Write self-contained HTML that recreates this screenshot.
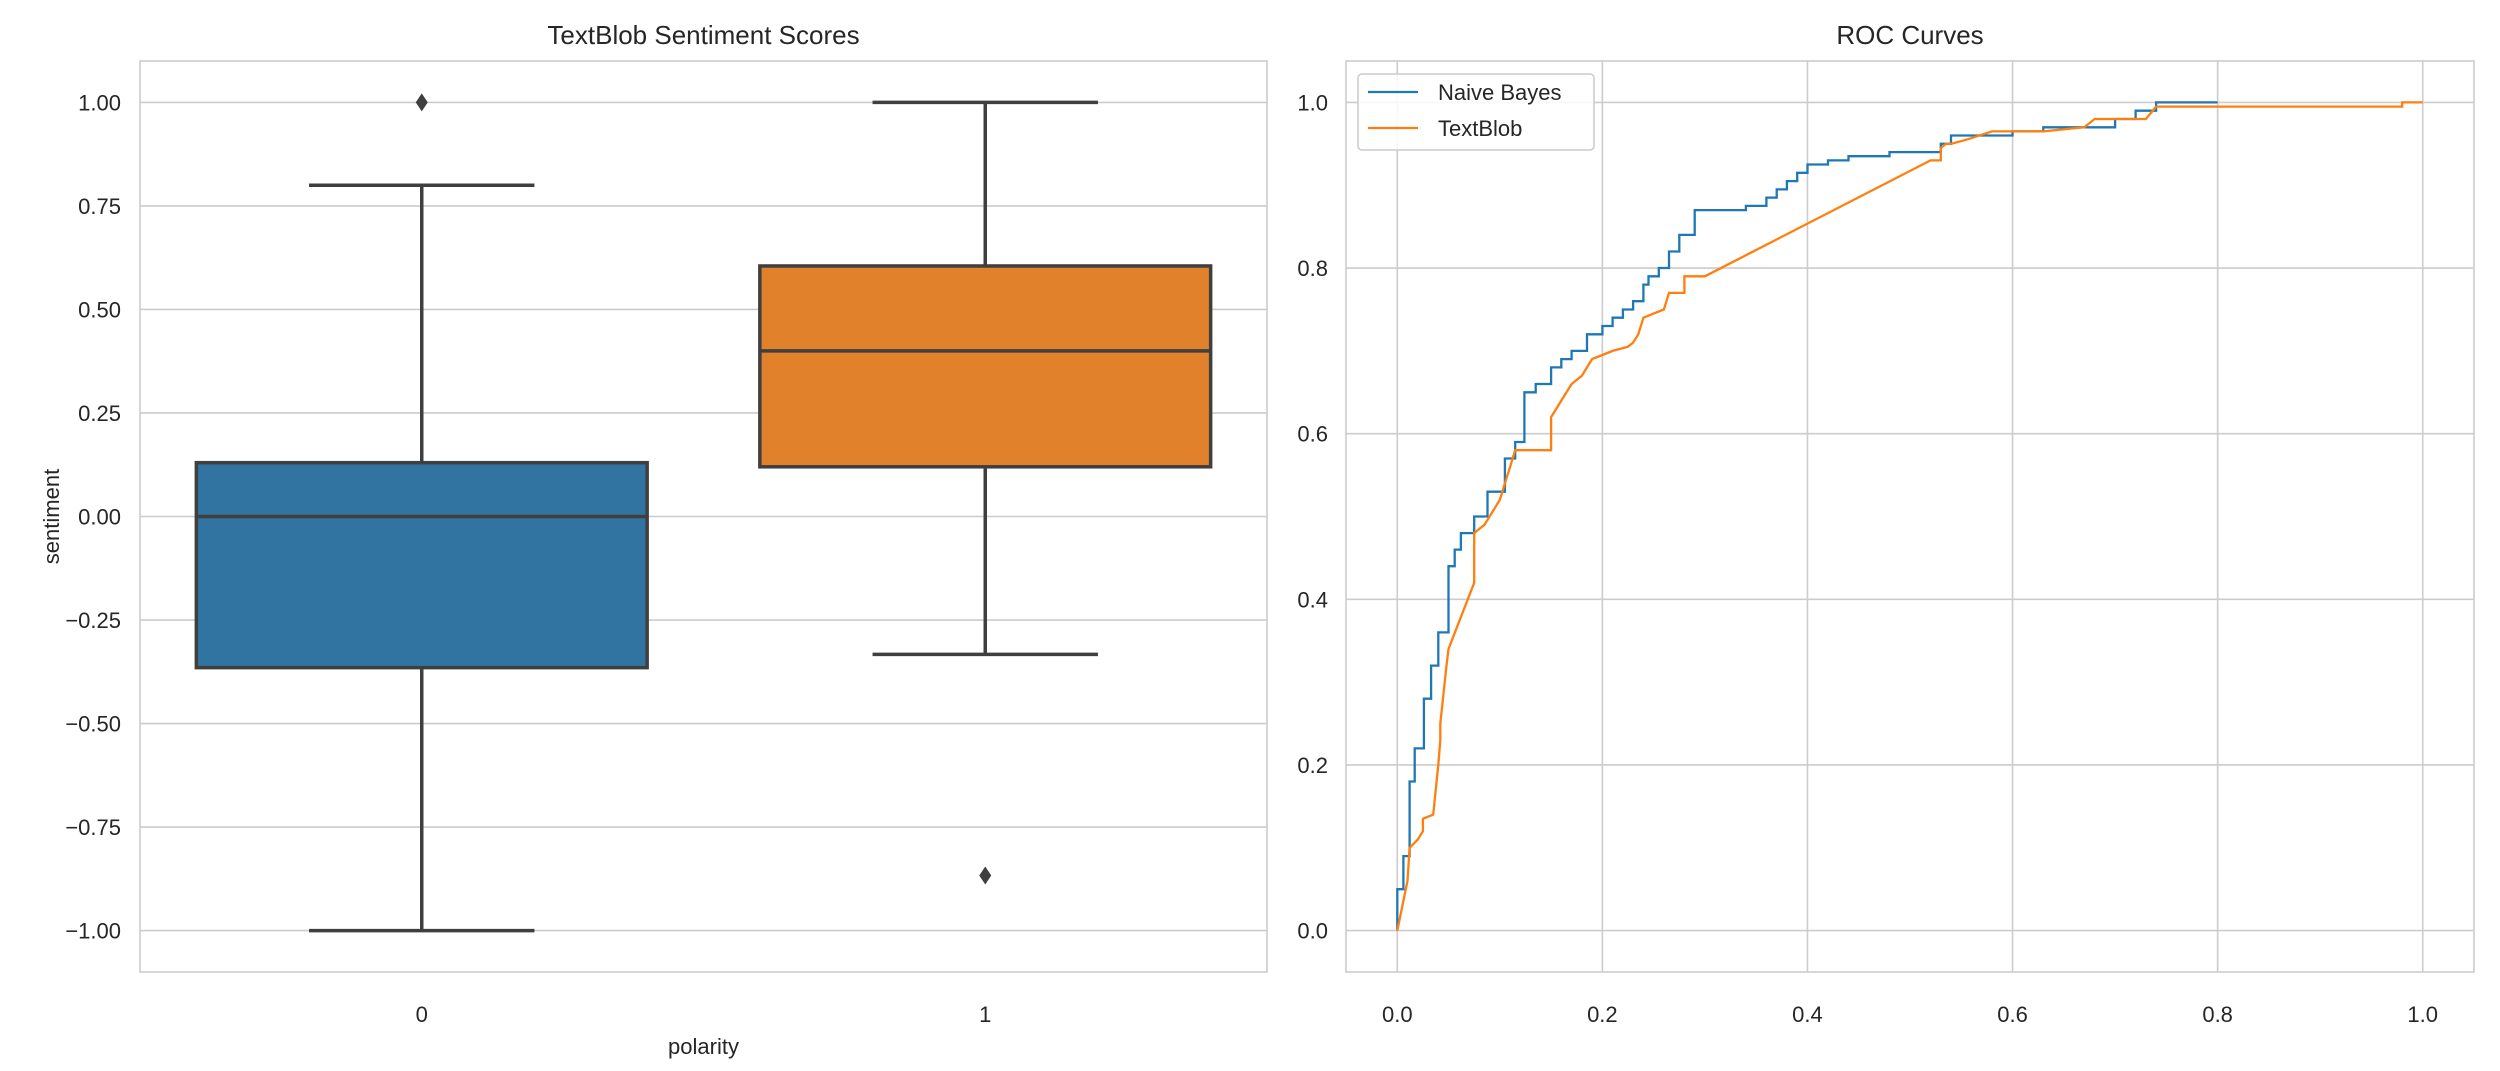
<!DOCTYPE html>
<html><head><meta charset="utf-8"><style>
html,body{margin:0;padding:0;background:#fff}
svg{display:block;font-family:"Liberation Sans","DejaVu Sans",sans-serif}
</style></head><body>
<svg id="chart" width="2500" height="1071" viewBox="0 0 2500 1071" xmlns="http://www.w3.org/2000/svg"></svg>
<script>
// ---- Box plot data ----
const boxCategories = ["0", "1"];
const boxQ1 = [-0.365, 0.12];
const boxMedian = [0.0, 0.40];
const boxQ3 = [0.13, 0.605];
const whiskerLow = [-1.0, -0.333];
const whiskerHigh = [0.8, 1.0];
const outliers = [[1.0], [-0.867]];
const boxColors = ["#3274a1", "#e1812c"];
const leftYTicks = [-1.0, -0.75, -0.5, -0.25, 0.0, 0.25, 0.5, 0.75, 1.0];

// ---- ROC data ----
const nbFpr = [0,0,0.006,0.006,0.012,0.012,0.017,0.017,0.026,0.026,0.033,0.033,0.04,0.04,0.05,0.05,0.056,0.056,0.062,0.062,0.075,0.075,0.088,0.088,0.105,0.105,0.115,0.115,0.124,0.124,0.135,0.135,0.15,0.15,0.16,0.16,0.17,0.17,0.185,0.185,0.2,0.2,0.21,0.21,0.22,0.22,0.23,0.23,0.24,0.24,0.245,0.245,0.255,0.255,0.265,0.265,0.275,0.275,0.29,0.29,0.34,0.34,0.36,0.36,0.37,0.37,0.38,0.38,0.39,0.39,0.40,0.40,0.42,0.42,0.44,0.44,0.48,0.48,0.53,0.53,0.54,0.54,0.60,0.60,0.63,0.63,0.70,0.70,0.72,0.72,0.74,0.74,0.80,0.80,1.0];
const nbTpr = [0,0.05,0.05,0.09,0.09,0.18,0.18,0.22,0.22,0.28,0.28,0.32,0.32,0.36,0.36,0.44,0.44,0.46,0.46,0.48,0.48,0.50,0.50,0.53,0.53,0.57,0.57,0.59,0.59,0.65,0.65,0.66,0.66,0.68,0.68,0.69,0.69,0.70,0.70,0.72,0.72,0.73,0.73,0.74,0.74,0.75,0.75,0.76,0.76,0.78,0.78,0.79,0.79,0.80,0.80,0.82,0.82,0.84,0.84,0.87,0.87,0.875,0.875,0.885,0.885,0.895,0.895,0.905,0.905,0.915,0.915,0.925,0.925,0.93,0.93,0.935,0.935,0.94,0.94,0.95,0.95,0.96,0.96,0.965,0.965,0.97,0.97,0.98,0.98,0.99,0.99,1.0,1.0];
const tbFpr = [0,0.01,0.012,0.02,0.025,0.025,0.035,0.04,0.042,0.042,0.048,0.05,0.075,0.075,0.085,0.09,0.095,0.1,0.105,0.11,0.115,0.15,0.15,0.16,0.17,0.175,0.18,0.19,0.2,0.21,0.225,0.23,0.235,0.24,0.25,0.26,0.265,0.28,0.28,0.30,0.52,0.53,0.53,0.535,0.54,0.555,0.58,0.63,0.67,0.675,0.68,0.73,0.74,0.98,0.98,1.0];
const tbTpr = [0,0.06,0.10,0.11,0.12,0.135,0.14,0.20,0.23,0.25,0.32,0.34,0.42,0.48,0.49,0.50,0.51,0.52,0.54,0.56,0.58,0.58,0.62,0.64,0.66,0.665,0.67,0.69,0.695,0.70,0.705,0.71,0.72,0.74,0.745,0.75,0.77,0.77,0.79,0.79,0.93,0.93,0.945,0.95,0.95,0.955,0.965,0.965,0.97,0.975,0.98,0.98,0.995,0.995,1.0,1.0];
const rocXTicks = [0.0, 0.2, 0.4, 0.6, 0.8, 1.0];
const rocYTicks = [0.0, 0.2, 0.4, 0.6, 0.8, 1.0];

const NS = "http://www.w3.org/2000/svg";
const svg = document.getElementById("chart");
function mk(tag, attrs, parent) {
  const el = document.createElementNS(NS, tag);
  for (const k in attrs) el.setAttribute(k, attrs[k]);
  (parent || svg).appendChild(el);
  return el;
}
function txt(s, attrs, parent) { const t = mk("text", attrs, parent); t.textContent = s; return t; }

// ---------- Left axes ----------
const L = {x0:140, x1:1267, y0:61, y1:972};
const lx = c => L.x0 + (c + 0.5) / 2 * (L.x1 - L.x0);
const ly = v => L.y1 - (v + 1.1) / 2.2 * (L.y1 - L.y0);
const gL = mk("g", {});


leftYTicks.forEach(v => {
  const g = mk("line", {x1:L.x0, x2:L.x1, y1:ly(v), y2:ly(v), stroke:"#cccccc", "stroke-width":1.6}, gL);
  
  
  const t = txt(v.toFixed(2).replace("-", "\u2212"), {x:121, y:ly(v)+8, "text-anchor":"end", "font-size":22, fill:"#262626"}, gL);
  
  
});
const frL = mk("rect", {x:L.x0, y:L.y0, width:L.x1-L.x0, height:L.y1-L.y0, fill:"none", stroke:"#cccccc", "stroke-width":1.6}, gL);


const unit = (L.x1 - L.x0) / 2;
boxCategories.forEach((c, i) => {
  const cx = lx(i), hw = 0.4 * unit, cw = 0.2 * unit;
  const g = mk("g", {}, gL);
  
  
  const st = {stroke:"#3f3f3f", "stroke-width":3.5, fill:"none"};
  mk("line", Object.assign({x1:cx, x2:cx, y1:ly(boxQ1[i]), y2:ly(whiskerLow[i])}, st), g);
  mk("line", Object.assign({x1:cx, x2:cx, y1:ly(boxQ3[i]), y2:ly(whiskerHigh[i])}, st), g);
  mk("line", Object.assign({x1:cx-cw, x2:cx+cw, y1:ly(whiskerLow[i]), y2:ly(whiskerLow[i])}, st), g);
  mk("line", Object.assign({x1:cx-cw, x2:cx+cw, y1:ly(whiskerHigh[i]), y2:ly(whiskerHigh[i])}, st), g);
  mk("rect", {x:cx-hw, y:ly(boxQ3[i]), width:2*hw, height:ly(boxQ1[i])-ly(boxQ3[i]), fill:boxColors[i], stroke:"#3f3f3f", "stroke-width":3.5}, g);
  mk("line", Object.assign({x1:cx-hw, x2:cx+hw, y1:ly(boxMedian[i]), y2:ly(boxMedian[i])}, st), g);
  outliers[i].forEach(o => {
    const y = ly(o);
    const d = mk("polygon", {points:`${cx},${y-9} ${cx+6},${y} ${cx},${y+9} ${cx-6},${y}`, fill:"#3f3f3f"}, g);
    
    
  });
  const t = txt(c, {x:cx, y:1022, "text-anchor":"middle", "font-size":22, fill:"#262626"}, gL);
  
  
});
const t1 = txt("TextBlob Sentiment Scores", {x:(L.x0+L.x1)/2, y:44, "text-anchor":"middle", "font-size":26, fill:"#262626"});


const xl = txt("polarity", {x:(L.x0+L.x1)/2, y:1054, "text-anchor":"middle", "font-size":22, fill:"#262626"});


const yl = txt("sentiment", {x:0, y:0, "text-anchor":"middle", "font-size":22, fill:"#262626", transform:`translate(59,${(L.y0+L.y1)/2}) rotate(-90)`});



// ---------- Right axes ----------
const R = {x0:1346, x1:2474, y0:61, y1:972};
const rx = v => R.x0 + (v + 0.05) / 1.1 * (R.x1 - R.x0);
const ry = v => R.y1 - (v + 0.05) / 1.1 * (R.y1 - R.y0);
const gR = mk("g", {});


rocYTicks.forEach(v => {
  const g = mk("line", {x1:R.x0, x2:R.x1, y1:ry(v), y2:ry(v), stroke:"#cccccc", "stroke-width":1.6}, gR);
  
  
  const t = txt(v.toFixed(1), {x:1328, y:ry(v)+8, "text-anchor":"end", "font-size":22, fill:"#262626"}, gR);
  
  
});
rocXTicks.forEach(v => {
  const g = mk("line", {x1:rx(v), x2:rx(v), y1:R.y0, y2:R.y1, stroke:"#cccccc", "stroke-width":1.6}, gR);
  
  
  const t = txt(v.toFixed(1), {x:rx(v), y:1022, "text-anchor":"middle", "font-size":22, fill:"#262626"}, gR);
  
  
});
const frR = mk("rect", {x:R.x0, y:R.y0, width:R.x1-R.x0, height:R.y1-R.y0, fill:"none", stroke:"#cccccc", "stroke-width":1.6}, gR);


function pts(xs, ys) { return xs.map((x, i) => rx(x).toFixed(1) + "," + ry(ys[i]).toFixed(1)).join(" "); }
const nbLine = mk("polyline", {points:pts(nbFpr, nbTpr), fill:"none", stroke:"#1f77b4", "stroke-width":2.3}, gR);


const tbLine = mk("polyline", {points:pts(tbFpr, tbTpr), fill:"none", stroke:"#ff7f0e", "stroke-width":2.3}, gR);


const t2 = txt("ROC Curves", {x:(R.x0+R.x1)/2, y:44, "text-anchor":"middle", "font-size":26, fill:"#262626"});



// legend
const lg = mk("g", {});


mk("rect", {x:1358, y:74, width:236, height:76, rx:4, fill:"#ffffff", "fill-opacity":0.85, stroke:"#cccccc", "stroke-width":1.6}, lg);
const e1 = mk("g", {}, lg);


mk("line", {x1:1368, x2:1418, y1:92, y2:92, stroke:"#1f77b4", "stroke-width":2.3}, e1);
txt("Naive Bayes", {x:1438, y:100, "font-size":22, fill:"#262626"}, e1);
const e2 = mk("g", {}, lg);


mk("line", {x1:1368, x2:1418, y1:128, y2:128, stroke:"#ff7f0e", "stroke-width":2.3}, e2);
txt("TextBlob", {x:1438, y:136, "font-size":22, fill:"#262626"}, e2);
</script>
</body></html>
